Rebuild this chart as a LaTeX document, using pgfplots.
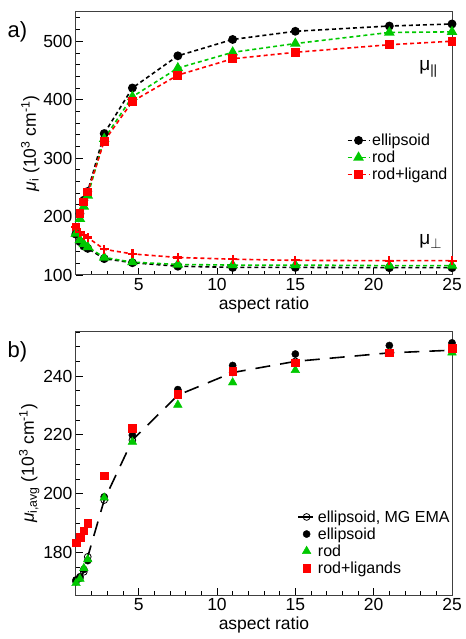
\documentclass[border=0pt]{standalone}
\usepackage{fontspec}
\setmainfont{Liberation Sans}
\usepackage{pgfplots}
\pgfplotsset{compat=1.18}
\definecolor{mygreen}{RGB}{0,200,0}
\definecolor{myred}{RGB}{255,0,0}
\begin{document}
\begin{tikzpicture}
\pgfplotsset{
  common/.style={
    scale only axis, width=376pt, height=263pt,
    xmin=1, xmax=25,
    xtick={5,10,15,20,25},
    minor xtick={2,3,4,6,7,8,9,11,12,13,14,16,17,18,19,21,22,23,24},
    tick pos=left, tick align=inside,
    major tick length=7pt, minor tick length=4pt,
    every tick/.style={black, line width=0.8pt},
    axis line style={black!75, line width=1pt},
    /pgf/number format/assume math mode=true,
    tick label style={font=\fontsize{17.5}{17.5}\selectfont},
    label style={font=\fontsize{17.5}{17.5}\selectfont},
    xlabel={aspect ratio},
    xlabel style={yshift=1pt},
    clip=false,
    legend cell align=left,
    legend style={draw=none, fill=none, font=\fontsize{16}{16}\selectfont, row sep=0pt, inner sep=0pt},
  }
}
% ---------------- panel a
\begin{axis}[common, at={(0pt,320pt)}, anchor=south west,
  ymin=100, ymax=550, ytick={100,200,300,400,500},
  minor ytick={120,140,160,180,220,240,260,280,320,340,360,380,420,440,460,480,520,540},
  ylabel={{\itshape μ}\textsubscript{i} (10\textsuperscript{3} cm\textsuperscript{-1})},
  ylabel style={yshift=-3pt},
  legend style={at={(0.72,0.545)}, anchor=north west},
  legend image code/.code={\draw[mark repeat=2,mark phase=2] plot coordinates {(0cm,0cm) (0.38cm,0cm) (0.76cm,0cm)};},
]
\addplot[black, dashed, line width=1.6pt, dash pattern=on 4pt off 3pt, mark=*, mark size=3.6pt, mark options={solid}]
 coordinates {(1,170) (1.25,205) (1.5,228) (1.75,243) (2.8,342) (4.6,420) (7.5,475) (11,503) (15,517) (21,526) (25,529.5)};
\addlegendentry{ellipsoid}
\addplot[mygreen, dashed, line width=1.6pt, dash pattern=on 4pt off 3pt, mark=triangle*, mark size=4.6pt, mark options={solid}]
 coordinates {(1,171) (1.25,196) (1.5,217) (1.75,236) (2.8,333) (4.6,405) (7.5,454) (11,481) (15,496) (21,515) (25,516)};
\addlegendentry{rod}
\addplot[myred, dashed, line width=1.6pt, dash pattern=on 4pt off 3pt, mark=square*, mark size=3.6pt, mark options={solid}]
 coordinates {(1,182) (1.25,205) (1.5,225) (1.75,242) (2.8,329) (4.6,397) (7.5,442) (11,470) (15,481) (21,494) (25,500)};
\addlegendentry{rod+ligand}
\addplot[black, dashed, line width=1.6pt, dash pattern=on 4pt off 3pt, mark=*, mark size=3.6pt, mark options={solid}, forget plot]
 coordinates {(1,170) (1.25,157) (1.5,149.5) (1.75,145.5) (2.8,128) (4.6,121) (7.5,115) (11,113) (15,113) (21,112.5) (25,112.5)};
\addplot[mygreen, dashed, line width=1.6pt, dash pattern=on 4pt off 3pt, mark=triangle*, mark size=4.6pt, mark options={solid}, forget plot]
 coordinates {(1,171) (1.25,160) (1.5,153) (1.75,148) (2.8,130) (4.6,122) (7.5,118) (11,117) (15,117) (21,116) (25,116)};
\addplot[myred, dashed, line width=1.6pt, dash pattern=on 4pt off 3pt, mark=+, mark size=4.5pt, mark options={solid, line width=2.2pt}, forget plot]
 coordinates {(1,182) (1.25,173) (1.5,168) (1.75,164) (2.8,144) (4.6,136) (7.5,130) (11,127) (15,125) (21,124.5) (25,124.5)};
\node[anchor=base west, font=\fontsize{19}{19}\selectfont, inner sep=0pt] at (axis cs:22.9,450) {μ\textsubscript{||}};
\node[anchor=base west, font=\fontsize{19}{19}\selectfont, inner sep=0pt] at (axis cs:22.9,153) {μ\textsubscript{$\perp$}};
\node[anchor=north west, font=\fontsize{22}{22}\selectfont] at (rel axis cs:0,1) [xshift=-72pt, yshift=-6pt] {a)};
\end{axis}
% ---------------- panel b
\begin{axis}[common, at={(0pt,0pt)}, anchor=south west,
  ymin=165.5, ymax=255, ytick={180,200,220,240},
  minor ytick={170,175,185,190,195,205,210,215,225,230,235,245,250,255},
  ylabel={{\itshape μ}\textsubscript{i,avg} (10\textsuperscript{3} cm\textsuperscript{-1})},
  ylabel style={yshift=-3pt},
  legend style={at={(0.588,0.33)}, anchor=north west},
]
\addplot[black, line width=1.6pt, dash pattern=on 15pt off 10pt, mark=o, mark size=3.4pt, mark options={solid, line width=0.8pt}]
 coordinates {(1,170) (1.25,171.2) (1.5,173.4) (1.75,178.5) (2.8,197.8) (4.6,218.2) (7.5,233.5) (11,241.2) (15,245) (21,247.9) (25,248.8)};
\addlegendentry{ellipsoid, MG EMA}
\addplot[only marks, black, mark=*, mark size=3.6pt]
 coordinates {(1,170.6) (1.25,171.7) (1.5,174.2) (1.75,177.2) (2.8,198.9) (4.6,219.9) (7.5,235.4) (11,243.6) (15,247.5) (21,250.4) (25,251.3)};
\addlegendentry{ellipsoid}
\addplot[only marks, mygreen, mark=triangle*, mark size=5pt]
 coordinates {(1,169.5) (1.25,171) (1.5,174.6) (1.75,177.6) (2.8,198.6) (4.6,217.6) (7.5,230.2) (11,237.8) (15,242) (21,247.7) (25,248)};
\addlegendentry{rod}
\addplot[only marks, myred, mark=square*, mark size=3.8pt]
 coordinates {(1,183.3) (1.25,185.1) (1.5,187.4) (1.75,189.9) (2.8,206.1) (4.6,222.2) (7.5,233.9) (11,241.7) (15,244.5) (21,248) (25,249.4)};
\addlegendentry{rod+ligands}
\node[anchor=north west, font=\fontsize{22}{22}\selectfont] at (rel axis cs:0,1) [xshift=-72pt, yshift=-6pt] {b)};
\end{axis}
\path[use as bounding box] (-76pt,-44pt) rectangle (388pt,595pt);
\end{tikzpicture}
\end{document}
